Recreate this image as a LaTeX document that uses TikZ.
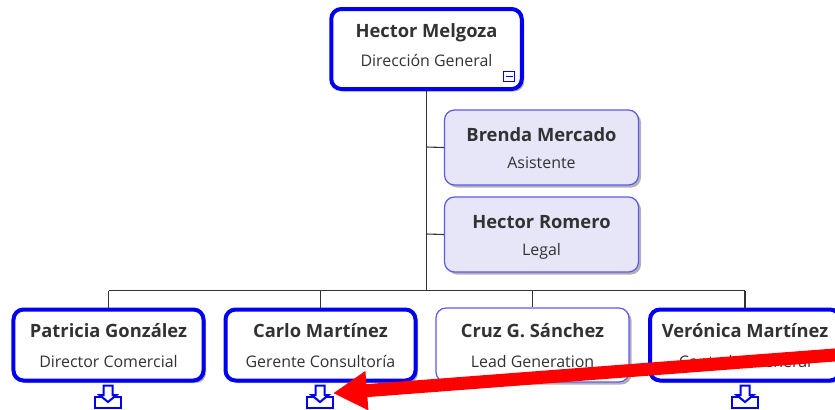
\documentclass[tikz,border=0pt]{standalone}
\usepackage{fontspec}
\setmainfont{Open Sans}
\usetikzlibrary{arrows.meta,shadows}
\definecolor{blueA}{RGB}{0,0,240}
\definecolor{blueB}{RGB}{90,90,240}
\definecolor{fillB}{RGB}{230,230,248}
\definecolor{inkT}{RGB}{50,50,50}
\tikzset{
  orgbox/.style={rounded corners=10bp,fill=white,align=center,text=inkT,inner sep=0pt,
    anchor=center,font=\fontsize{15}{20}\selectfont,
    drop shadow={shadow xshift=2.5bp,shadow yshift=-2.5bp,fill=black,opacity=.3}},
  heavy/.style={orgbox,draw=blueA,line width=4bp},
  thin/.style={orgbox,draw=blueB,line width=1.2bp},
  assist/.style={thin,fill=fillB},
  wire/.style={draw=black!80,line width=1.1bp},
  icon/.style={draw=blueA,line width=2bp,fill=white},
  redarrow/.style={draw=red,line width=13bp,-{Triangle[length=34bp,width=37bp,fill=red]}},
  expand/.pic={
    \draw[icon] (-13,3) rectangle (13,13.5);
    \draw[icon,line join=miter] (-4.5,-8.5) -- (4.5,-8.5) -- (4.5,1) -- (8.5,1) -- (0,8) -- (-8.5,1) -- (-4.5,1) -- cycle;
  }
}
\newcommand{\nm}[1]{{\fontsize{18.4}{20}\selectfont\bfseries\rule[-5bp]{0pt}{26bp}#1}}
\newcommand{\tl}[2][6bp]{{\fontsize{16}{20}\selectfont\rule[-#1]{0pt}{12bp}#2}}
\begin{document}
\begin{tikzpicture}[x=1bp,y=-1bp]
\useasboundingbox (0,0) rectangle (835,409);
\clip (0,0) rectangle (835,409);
\coordinate (bus) at (426.5,290.5);
\coordinate (b1) at (426.5,147);
\coordinate (b2) at (426.5,234);
% boxes
\node[heavy,minimum width=190.5bp,minimum height=80bp] (top) at (426.5,49) {\nm{Hector Melgoza}\\[9bp]\tl[15bp]{Dirección General}};
\node[assist,minimum width=194bp,minimum height=75bp] (brenda) at (541.5,147.5) {\nm{Brenda Mercado}\\[8bp]\tl{Asistente}};
\node[assist,minimum width=194bp,minimum height=75bp] (romero) at (541.5,234.5) {\nm{Hector Romero}\\[8bp]\tl{Legal}};
\node[heavy,minimum width=190bp,minimum height=71bp] (patricia) at (108.5,345) {\nm{Patricia González}\\[10bp]\tl{Director Comercial}};
\node[heavy,minimum width=190bp,minimum height=71bp] (carlo) at (320.5,345) {\nm{Carlo Martínez}\\[10bp]\tl{Gerente Consultoría}};
\node[thin,minimum width=193bp,minimum height=74bp] (cruz) at (532.5,345) {\nm{Cruz G. Sánchez}\\[10bp]\tl{Lead Generation}};
\node[heavy,minimum width=190bp,minimum height=71bp] (veronica) at (745,345) {\nm{Verónica Martínez}\\[10bp]\tl{Contador General}};
% connectors
\draw[wire] (top.south) -- (top.south |- bus);
\draw[wire] (b1) -- (brenda.west);
\draw[wire] (b2) -- (romero.west);
\draw[wire] (patricia.north |- bus) -- (veronica.north |- bus);
\foreach \n in {patricia,carlo,cruz,veronica}
  \draw[wire] (\n.north |- bus) -- (\n.north);
% collapse marker
\draw[icon,line width=1.3bp,fill=white] (503.5,71.5) rectangle (514.5,81.5);
\draw[icon,line width=1.6bp] (505.5,76.5) -- (512.5,76.5);
% expand markers
\pic at (108,394) {expand};
\pic at (320,394) {expand};
\pic at (745,394) {expand};
% red arrow
\coordinate (redstart) at (845,354.2);
\coordinate (redtip) at (333,393.2);
\draw[redarrow] (redstart) -- (redtip);
\end{tikzpicture}
\end{document}
